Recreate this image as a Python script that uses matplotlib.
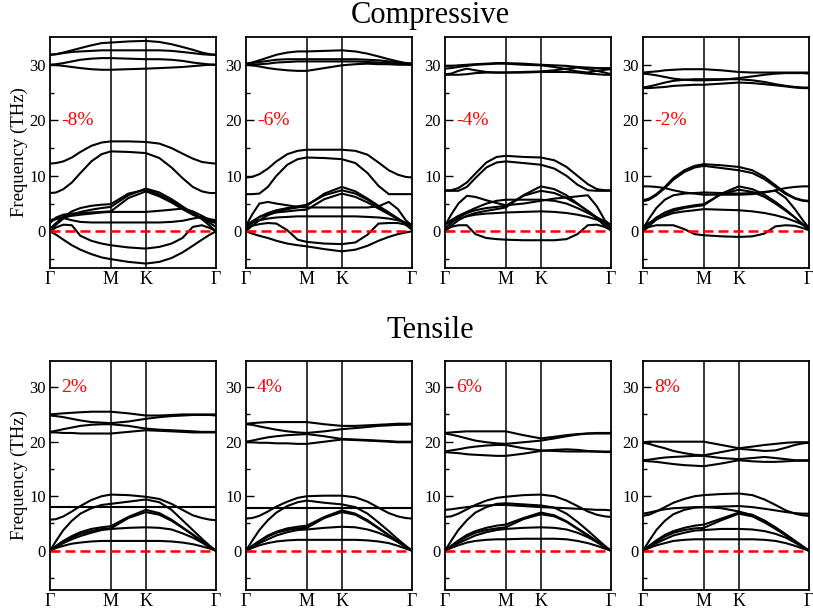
import matplotlib
matplotlib.use("Agg")
import matplotlib.pyplot as plt
import numpy as np

plt.rcParams["font.family"] = ["Liberation Serif", "DejaVu Serif"]

# path distance along G-M-K-G (G-M = 1)
k_path = [0, 0.1, 0.22, 0.36, 0.5, 0.68, 0.85, 1.0, 1.29, 1.577,
          1.8, 2.0, 2.18, 2.35, 2.5, 2.63, 2.732]
k_ticks = [0, 1.0, 1.577, 2.732]
k_labels = ["Γ", "M", "K", "Γ"]

# ---- compressive -8 %
bands_m8 = [
    [31.8, 31.9, 32.2, 32.6, 33.0, 33.5, 33.9, 34.0, 34.2, 34.3, 34.1, 33.7, 33.2, 32.7, 32.2, 31.9, 31.8],
    [31.8, 31.9, 32.1, 32.3, 32.4, 32.5, 32.6, 32.6, 32.6, 32.6, 32.6, 32.5, 32.3, 32.1, 31.9, 31.8, 31.8],
    [30.0, 30.1, 30.3, 30.6, 30.9, 31.1, 31.2, 31.2, 31.1, 31.0, 31.0, 30.9, 30.7, 30.4, 30.2, 30.05, 30.0],
    [30.0, 29.95, 29.8, 29.6, 29.4, 29.2, 29.1, 29.1, 29.2, 29.3, 29.4, 29.5, 29.6, 29.75, 29.9, 30.0, 30.0],
    [12.2, 12.3, 12.6, 13.3, 14.3, 15.4, 16.0, 16.2, 16.2, 16.1, 15.8, 15.0, 14.0, 13.1, 12.5, 12.3, 12.2],
    [6.9, 7.0, 7.6, 8.8, 10.5, 12.6, 13.9, 14.4, 14.3, 14.1, 13.2, 11.5, 9.6, 8.0, 7.2, 6.9, 6.9],
    [0, 1.2, 2.3, 3.0, 3.5, 3.9, 4.2, 4.4, 6.5, 7.7, 7.0, 5.8, 4.5, 3.3, 2.2, 1.0, 0],
    [0.5, 1.5, 2.6, 3.6, 4.2, 4.6, 4.8, 4.9, 6.8, 7.5, 6.6, 5.5, 4.3, 3.2, 2.3, 1.5, 0.8],
    [1.5, 2.5, 3.0, 3.2, 3.3, 3.4, 3.5, 3.6, 6.0, 7.2, 6.3, 5.2, 4.0, 3.0, 2.3, 1.8, 1.5],
    [1.8, 2.2, 2.6, 2.8, 3.0, 3.2, 3.4, 3.5, 3.5, 3.5, 3.7, 3.9, 4.1, 3.6, 2.8, 2.0, 1.8],
    [2.0, 2.3, 2.4, 2.0, 1.7, 1.6, 1.6, 1.6, 1.6, 1.6, 1.6, 1.7, 1.9, 2.3, 2.6, 2.2, 2.0],
    [0, 0.7, 1.2, 1.1, -0.8, -1.7, -2.2, -2.5, -2.9, -3.1, -2.8, -2.2, -1.2, 0.8, 1.1, 0.6, 0],
    [0, -0.6, -1.5, -2.5, -3.3, -4.1, -4.7, -5.0, -5.5, -5.8, -5.5, -4.8, -3.8, -2.6, -1.5, -0.6, 0],
]

# ---- compressive -6 %
bands_m6 = [
    [30.2, 30.4, 30.8, 31.3, 31.8, 32.2, 32.4, 32.4, 32.5, 32.6, 32.4, 32.0, 31.5, 31.0, 30.6, 30.3, 30.2],
    [30.2, 30.3, 30.5, 30.7, 30.9, 31.0, 31.0, 31.0, 31.0, 31.0, 31.0, 30.9, 30.8, 30.6, 30.4, 30.3, 30.2],
    [30.0, 30.0, 30.1, 30.2, 30.4, 30.5, 30.6, 30.6, 30.6, 30.6, 30.6, 30.5, 30.4, 30.3, 30.2, 30.1, 30.0],
    [30.0, 29.9, 29.7, 29.4, 29.2, 29.0, 28.9, 28.9, 29.4, 29.9, 30.1, 30.2, 30.1, 30.1, 30.0, 30.0, 30.0],
    [9.7, 9.8, 10.3, 11.3, 12.6, 13.9, 14.5, 14.7, 14.7, 14.7, 14.5, 13.8, 12.4, 11.0, 10.2, 9.8, 9.7],
    [6.7, 6.7, 6.8, 8.0, 10.0, 12.0, 13.0, 13.3, 13.2, 13.0, 12.3, 10.5, 8.2, 6.7, 6.7, 6.7, 6.7],
    [0, 1.0, 2.0, 2.9, 3.5, 4.0, 4.3, 4.6, 6.8, 8.0, 7.2, 5.9, 4.6, 3.4, 2.3, 1.2, 0.3],
    [0.5, 1.5, 2.6, 3.3, 3.8, 4.2, 4.5, 4.8, 6.5, 7.4, 6.8, 5.7, 4.4, 3.3, 2.3, 1.4, 0.6],
    [1.0, 1.8, 2.6, 3.1, 3.4, 3.6, 3.8, 3.9, 5.8, 6.8, 6.2, 5.2, 4.1, 3.1, 2.2, 1.5, 1.0],
    [1.0, 3.0, 5.0, 5.3, 5.0, 4.7, 4.4, 4.3, 4.3, 4.3, 4.3, 4.3, 4.5, 5.3, 4.0, 2.0, 1.0],
    [1.2, 1.6, 2.0, 2.3, 2.5, 2.6, 2.7, 2.7, 2.7, 2.7, 2.7, 2.6, 2.5, 2.3, 2.0, 1.6, 1.2],
    [0.5, 1.0, 1.3, 1.5, 1.4, 0.2, -1.5, -1.9, -2.2, -2.3, -2.0, -0.6, 1.4, 1.5, 1.5, 1.2, 0.5],
    [0, -0.4, -0.8, -1.2, -1.7, -2.2, -2.5, -2.7, -3.2, -3.6, -3.3, -2.6, -1.7, -1.0, -0.5, -0.2, 0],
]

# ---- compressive -4 %
bands_m4 = [
    [29.8, 29.8, 29.9, 30.0, 30.1, 30.2, 30.3, 30.3, 30.2, 30.0, 29.9, 29.8, 29.6, 29.5, 29.4, 29.4, 29.4],
    [29.3, 29.4, 29.6, 29.8, 30.0, 30.1, 30.2, 30.2, 30.0, 29.9, 29.6, 29.2, 28.8, 28.6, 28.9, 29.1, 29.2],
    [28.3, 28.4, 28.9, 29.3, 29.0, 28.7, 28.6, 28.6, 28.7, 28.8, 29.0, 29.3, 29.5, 29.2, 28.9, 28.6, 28.3],
    [28.2, 28.2, 28.2, 28.3, 28.5, 28.6, 28.6, 28.6, 28.6, 28.7, 28.7, 28.7, 28.6, 28.4, 28.3, 28.2, 28.2],
    [7.4, 7.4, 7.8, 8.8, 10.4, 12.4, 13.4, 13.6, 13.4, 13.3, 12.8, 11.6, 10.0, 8.5, 7.6, 7.4, 7.4],
    [7.3, 7.3, 7.3, 8.0, 9.6, 11.5, 12.4, 12.6, 12.3, 12.0, 11.3, 10.0, 8.4, 7.4, 7.3, 7.3, 7.3],
    [0, 1.0, 2.0, 2.8, 3.3, 3.7, 4.0, 4.3, 6.5, 8.1, 7.6, 6.5, 5.0, 3.6, 2.3, 1.0, 0.2],
    [0.5, 1.5, 2.5, 3.3, 3.8, 4.2, 4.4, 4.6, 6.4, 7.3, 6.9, 6.0, 4.9, 3.7, 2.5, 1.4, 0.6],
    [1.0, 3.0, 5.0, 6.4, 6.2, 5.6, 5.1, 4.7, 5.0, 5.5, 5.9, 6.1, 6.3, 6.5, 4.5, 2.0, 1.0],
    [1.2, 2.0, 2.8, 3.5, 4.2, 5.0, 5.5, 5.7, 5.7, 5.7, 5.5, 5.0, 4.2, 3.3, 2.5, 1.8, 1.2],
    [1.2, 1.8, 2.3, 2.7, 3.0, 3.2, 3.3, 3.4, 3.5, 3.6, 3.5, 3.3, 3.0, 2.6, 2.1, 1.6, 1.2],
    [0.2, 0.8, 1.1, 1.1, -0.5, -1.2, -1.4, -1.5, -1.6, -1.6, -1.6, -1.4, -0.5, 1.1, 1.2, 0.8, 0.2],
]

# ---- compressive -2 %
bands_m2 = [
    [28.6, 28.7, 28.8, 29.0, 29.1, 29.2, 29.2, 29.2, 29.0, 28.7, 28.6, 28.6, 28.6, 28.6, 28.6, 28.6, 28.6],
    [28.4, 28.3, 28.1, 27.8, 27.5, 27.3, 27.2, 27.2, 27.3, 27.6, 27.9, 28.2, 28.4, 28.5, 28.5, 28.5, 28.4],
    [25.9, 26.1, 26.4, 26.8, 27.1, 27.3, 27.4, 27.4, 27.4, 27.4, 27.2, 26.9, 26.5, 26.2, 26.0, 25.9, 25.9],
    [25.8, 25.8, 25.9, 26.0, 26.2, 26.3, 26.4, 26.4, 26.6, 26.8, 26.7, 26.5, 26.3, 26.1, 25.9, 25.8, 25.8],
    [5.6, 5.9, 6.7, 8.0, 9.6, 11.0, 11.8, 12.1, 11.9, 11.6, 11.0, 9.8, 8.3, 6.9, 6.0, 5.6, 5.5],
    [5.4, 5.7, 6.5, 7.8, 9.3, 10.7, 11.5, 11.8, 11.4, 11.0, 10.5, 9.4, 8.0, 6.7, 5.9, 5.5, 5.4],
    [8.1, 8.1, 8.0, 7.8, 7.4, 7.0, 6.8, 6.6, 6.6, 6.6, 6.7, 7.0, 7.4, 7.8, 8.0, 8.1, 8.1],
    [0, 1.0, 2.1, 3.0, 3.7, 4.2, 4.5, 4.7, 6.8, 8.1, 7.6, 6.6, 5.3, 3.9, 2.5, 1.2, 0.3],
    [0.4, 1.4, 2.5, 3.4, 4.0, 4.4, 4.7, 4.9, 6.7, 7.5, 7.1, 6.2, 5.0, 3.7, 2.5, 1.3, 0.5],
    [0.5, 2.3, 4.2, 5.7, 6.5, 6.8, 6.9, 7.0, 6.9, 6.8, 6.9, 7.1, 7.3, 6.0, 4.0, 2.0, 0.6],
    [0.8, 1.5, 2.2, 2.8, 3.3, 3.6, 3.8, 4.0, 3.9, 3.8, 3.6, 3.3, 2.9, 2.4, 1.8, 1.2, 0.8],
    [0.2, 0.8, 1.1, 1.1, 1.1, 0.4, -0.5, -0.7, -0.9, -1.0, -0.9, -0.4, 0.9, 1.1, 1.0, 0.6, 0.2],
]

# ---- tensile 2 %
bands_p2 = [
    [25.0, 25.1, 25.2, 25.3, 25.4, 25.5, 25.5, 25.5, 25.2, 24.8, 24.8, 24.9, 25.0, 25.0, 25.0, 25.0, 25.0],
    [24.8, 24.7, 24.5, 24.2, 23.9, 23.6, 23.5, 23.4, 23.7, 24.2, 24.5, 24.7, 24.8, 24.9, 24.9, 24.9, 24.8],
    [21.8, 22.0, 22.3, 22.6, 22.9, 23.1, 23.2, 23.2, 22.9, 22.4, 22.2, 22.1, 22.0, 21.9, 21.8, 21.8, 21.8],
    [21.7, 21.7, 21.6, 21.6, 21.5, 21.5, 21.5, 21.5, 21.8, 22.1, 22.0, 21.9, 21.8, 21.7, 21.7, 21.7, 21.7],
    [5.7, 5.8, 6.3, 7.2, 8.2, 9.3, 10.0, 10.3, 10.2, 9.9, 9.5, 8.6, 7.5, 6.5, 6.0, 5.7, 5.6],
    [0, 1.8, 3.8, 5.5, 6.8, 7.8, 8.4, 8.6, 9.0, 9.4, 8.9, 7.5, 5.6, 3.8, 2.2, 0.9, 0],
    [8.1, 8.1, 8.1, 8.1, 8.1, 8.1, 8.1, 8.1, 8.1, 8.1, 8.1, 8.1, 8.1, 8.1, 8.1, 8.1, 8.1],
    [0, 0.9, 1.8, 2.7, 3.4, 4.0, 4.3, 4.5, 6.2, 7.5, 6.9, 5.7, 4.3, 3.0, 1.8, 0.8, 0],
    [0, 0.8, 1.6, 2.4, 3.1, 3.6, 4.0, 4.1, 6.0, 7.1, 6.6, 5.5, 4.2, 2.9, 1.7, 0.7, 0],
    [0, 0.7, 1.4, 2.1, 2.7, 3.3, 3.8, 4.0, 4.2, 4.3, 4.2, 3.9, 3.2, 2.4, 1.5, 0.6, 0],
    [0, 0.5, 0.9, 1.3, 1.5, 1.7, 1.8, 1.8, 1.8, 1.8, 1.8, 1.7, 1.5, 1.2, 0.8, 0.4, 0],
]

# ---- tensile 4 %
bands_p4 = [
    [23.3, 23.4, 23.5, 23.6, 23.6, 23.6, 23.6, 23.6, 23.2, 22.9, 22.9, 23.0, 23.1, 23.2, 23.3, 23.3, 23.3],
    [23.2, 23.1, 22.8, 22.5, 22.2, 21.9, 21.7, 21.6, 21.9, 22.3, 22.5, 22.7, 22.9, 23.0, 23.1, 23.1, 23.2],
    [20.0, 20.2, 20.5, 20.8, 21.0, 21.2, 21.3, 21.4, 21.0, 20.5, 20.4, 20.3, 20.2, 20.1, 20.0, 20.0, 20.0],
    [19.9, 19.9, 19.8, 19.8, 19.7, 19.7, 19.6, 19.6, 20.0, 20.4, 20.3, 20.2, 20.1, 20.0, 19.9, 19.9, 19.9],
    [5.9, 6.0, 6.4, 7.2, 8.1, 9.0, 9.7, 10.0, 10.1, 10.1, 9.8, 9.0, 7.9, 6.9, 6.3, 6.0, 5.9],
    [0, 1.8, 3.8, 5.6, 7.0, 8.2, 8.9, 9.2, 8.8, 8.5, 8.0, 6.8, 5.2, 3.6, 2.1, 0.9, 0],
    [7.9, 7.9, 7.9, 7.9, 7.9, 7.9, 7.9, 7.9, 7.9, 7.9, 7.9, 7.9, 7.9, 7.9, 7.9, 7.9, 7.9],
    [0, 0.9, 1.8, 2.8, 3.5, 4.1, 4.4, 4.6, 6.2, 7.4, 6.8, 5.6, 4.2, 2.9, 1.7, 0.8, 0],
    [0, 0.8, 1.7, 2.6, 3.3, 3.8, 4.1, 4.2, 6.0, 7.1, 6.6, 5.4, 4.1, 2.8, 1.6, 0.7, 0],
    [0, 0.7, 1.4, 2.1, 2.8, 3.4, 3.8, 3.9, 4.2, 4.4, 4.3, 3.9, 3.3, 2.5, 1.6, 0.7, 0],
    [0, 0.5, 1.0, 1.4, 1.7, 1.9, 2.0, 2.0, 2.0, 2.0, 2.0, 1.9, 1.7, 1.4, 0.9, 0.4, 0],
]

# ---- tensile 6 %
bands_p6 = [
    [21.6, 21.7, 21.8, 21.9, 21.9, 21.9, 21.9, 21.9, 21.2, 20.6, 20.9, 21.2, 21.4, 21.5, 21.6, 21.6, 21.6],
    [21.5, 21.3, 21.0, 20.6, 20.2, 19.9, 19.7, 19.6, 19.9, 20.2, 20.6, 21.0, 21.3, 21.5, 21.5, 21.5, 21.5],
    [18.2, 18.4, 18.6, 18.9, 19.1, 19.3, 19.4, 19.4, 18.8, 18.4, 18.3, 18.2, 18.2, 18.2, 18.2, 18.2, 18.2],
    [18.1, 18.0, 17.9, 17.7, 17.6, 17.5, 17.4, 17.4, 17.8, 18.3, 18.5, 18.6, 18.5, 18.3, 18.2, 18.1, 18.1],
    [6.2, 6.3, 6.8, 7.6, 8.4, 9.2, 9.7, 9.9, 10.2, 10.3, 10.0, 9.2, 8.2, 7.2, 6.6, 6.3, 6.2],
    [0, 1.8, 3.8, 5.6, 7.0, 8.0, 8.6, 8.7, 8.5, 8.3, 7.9, 6.8, 5.3, 3.7, 2.2, 0.9, 0],
    [7.5, 7.6, 7.8, 8.0, 8.2, 8.3, 8.4, 8.4, 8.2, 8.0, 7.9, 7.8, 7.7, 7.6, 7.5, 7.5, 7.4],
    [0, 0.9, 1.9, 2.9, 3.6, 4.2, 4.6, 4.8, 6.0, 7.0, 6.5, 5.4, 4.1, 2.9, 1.7, 0.8, 0],
    [0, 0.8, 1.7, 2.6, 3.3, 3.8, 4.1, 4.3, 5.8, 6.7, 6.3, 5.3, 4.0, 2.8, 1.6, 0.7, 0],
    [0, 0.7, 1.4, 2.1, 2.8, 3.4, 3.8, 4.0, 4.2, 4.3, 4.2, 3.9, 3.3, 2.5, 1.6, 0.7, 0],
    [0, 0.5, 1.0, 1.5, 1.8, 2.0, 2.1, 2.1, 2.2, 2.2, 2.2, 2.1, 1.8, 1.4, 0.9, 0.4, 0],
]

# ---- tensile 8 %
bands_p8 = [
    [19.9, 20.0, 20.0, 20.0, 20.0, 20.0, 20.0, 20.0, 19.4, 18.8, 19.1, 19.4, 19.6, 19.8, 19.9, 19.9, 19.9],
    [19.8, 19.6, 19.2, 18.8, 18.3, 17.9, 17.6, 17.5, 18.1, 18.7, 18.5, 18.3, 18.4, 18.9, 19.4, 19.7, 19.8],
    [16.6, 16.7, 16.9, 17.1, 17.2, 17.3, 17.4, 17.4, 17.0, 16.8, 17.0, 17.2, 17.0, 16.8, 16.6, 16.6, 16.6],
    [16.5, 16.4, 16.3, 16.1, 15.9, 15.7, 15.6, 15.5, 16.0, 16.6, 16.4, 16.3, 16.3, 16.4, 16.5, 16.5, 16.5],
    [6.4, 6.6, 7.2, 8.0, 8.8, 9.5, 10.0, 10.2, 10.4, 10.5, 10.2, 9.4, 8.4, 7.4, 6.8, 6.5, 6.4],
    [0, 1.8, 3.8, 5.5, 6.7, 7.5, 7.9, 8.0, 7.8, 7.2, 6.5, 5.5, 4.3, 3.0, 1.8, 0.8, 0],
    [6.8, 7.0, 7.3, 7.6, 7.8, 7.9, 8.0, 8.0, 8.1, 8.2, 8.0, 7.7, 7.4, 7.1, 6.9, 6.8, 6.8],
    [0, 0.9, 1.9, 2.9, 3.6, 4.2, 4.6, 4.8, 5.9, 7.0, 6.6, 5.5, 4.2, 3.0, 1.8, 0.8, 0],
    [0, 0.8, 1.7, 2.6, 3.3, 3.8, 4.1, 4.2, 5.6, 6.8, 6.3, 5.2, 4.0, 2.8, 1.6, 0.7, 0],
    [0, 0.7, 1.4, 2.1, 2.8, 3.3, 3.7, 3.8, 4.0, 4.0, 3.9, 3.6, 3.1, 2.4, 1.5, 0.7, 0],
    [0, 0.5, 1.0, 1.4, 1.8, 2.0, 2.1, 2.1, 2.1, 2.1, 2.1, 2.0, 1.8, 1.4, 0.9, 0.4, 0],
]

top_labels = ["-8%", "-6%", "-4%", "-2%"]
top_bands = [bands_m8, bands_m6, bands_m4, bands_m2]
bottom_labels = ["2%", "4%", "6%", "8%"]
bottom_bands = [bands_p2, bands_p4, bands_p6, bands_p8]

W, H = 813, 609
fig = plt.figure(figsize=(W / 100, H / 100), dpi=100)

lefts = [50, 246, 445, 643]
pw = 166


def draw_panel(ax, bands, label, label_y, ylim):
    for b in bands:
        ax.plot(k_path, b, color="black", lw=1.5, solid_capstyle="round",
                solid_joinstyle="round")
    for kx in k_ticks[1:3]:
        ax.axvline(kx, color="black", lw=1.1)
    ax.axhline(0, color="red", lw=1.8, ls=(0, (4, 2)))
    ax.set_xlim(0, k_path[-1])
    ax.set_ylim(*ylim)
    ax.set_xticks(k_ticks)
    ax.set_xticklabels(k_labels, fontsize=13)
    ax.tick_params(axis="x", length=0, pad=2.5)
    ax.set_yticks([0, 10, 20, 30])
    ax.set_yticks([-5, 5, 15, 25], minor=True)
    ax.tick_params(axis="y", which="major", direction="in", length=6,
                   width=1, labelsize=12, right=False, pad=3)
    ax.tick_params(axis="y", which="minor", direction="in", length=3,
                   width=1, right=False)
    for sp in ax.spines.values():
        sp.set_linewidth(1.3)
    ax.text(0.065, label_y, label, color="red", fontsize=14,
            transform=ax.get_yaxis_transform(), ha="left", va="center")


for i in range(4):
    ax = fig.add_axes([lefts[i] / W, 1 - 268 / H, pw / W, 231 / H])
    draw_panel(ax, top_bands[i], top_labels[i], 20, (-6.6, 35))
    if i == 0:
        ax.set_ylabel("Frequency (THz)", fontsize=13.5, labelpad=1)

for i in range(4):
    ax = fig.add_axes([lefts[i] / W, 1 - 590 / H, pw / W, 229 / H])
    draw_panel(ax, bottom_bands[i], bottom_labels[i], 30, (-7.2, 34.8))
    if i == 0:
        ax.set_ylabel("Frequency (THz)", fontsize=13.5, labelpad=1)

fig.text(430 / W, 1 - 15 / H, "Compressive", fontsize=22, ha="center", va="center")
fig.text(430 / W, 1 - 331 / H, "Tensile", fontsize=22, ha="center", va="center")

fig.savefig("out.png", dpi=100)
